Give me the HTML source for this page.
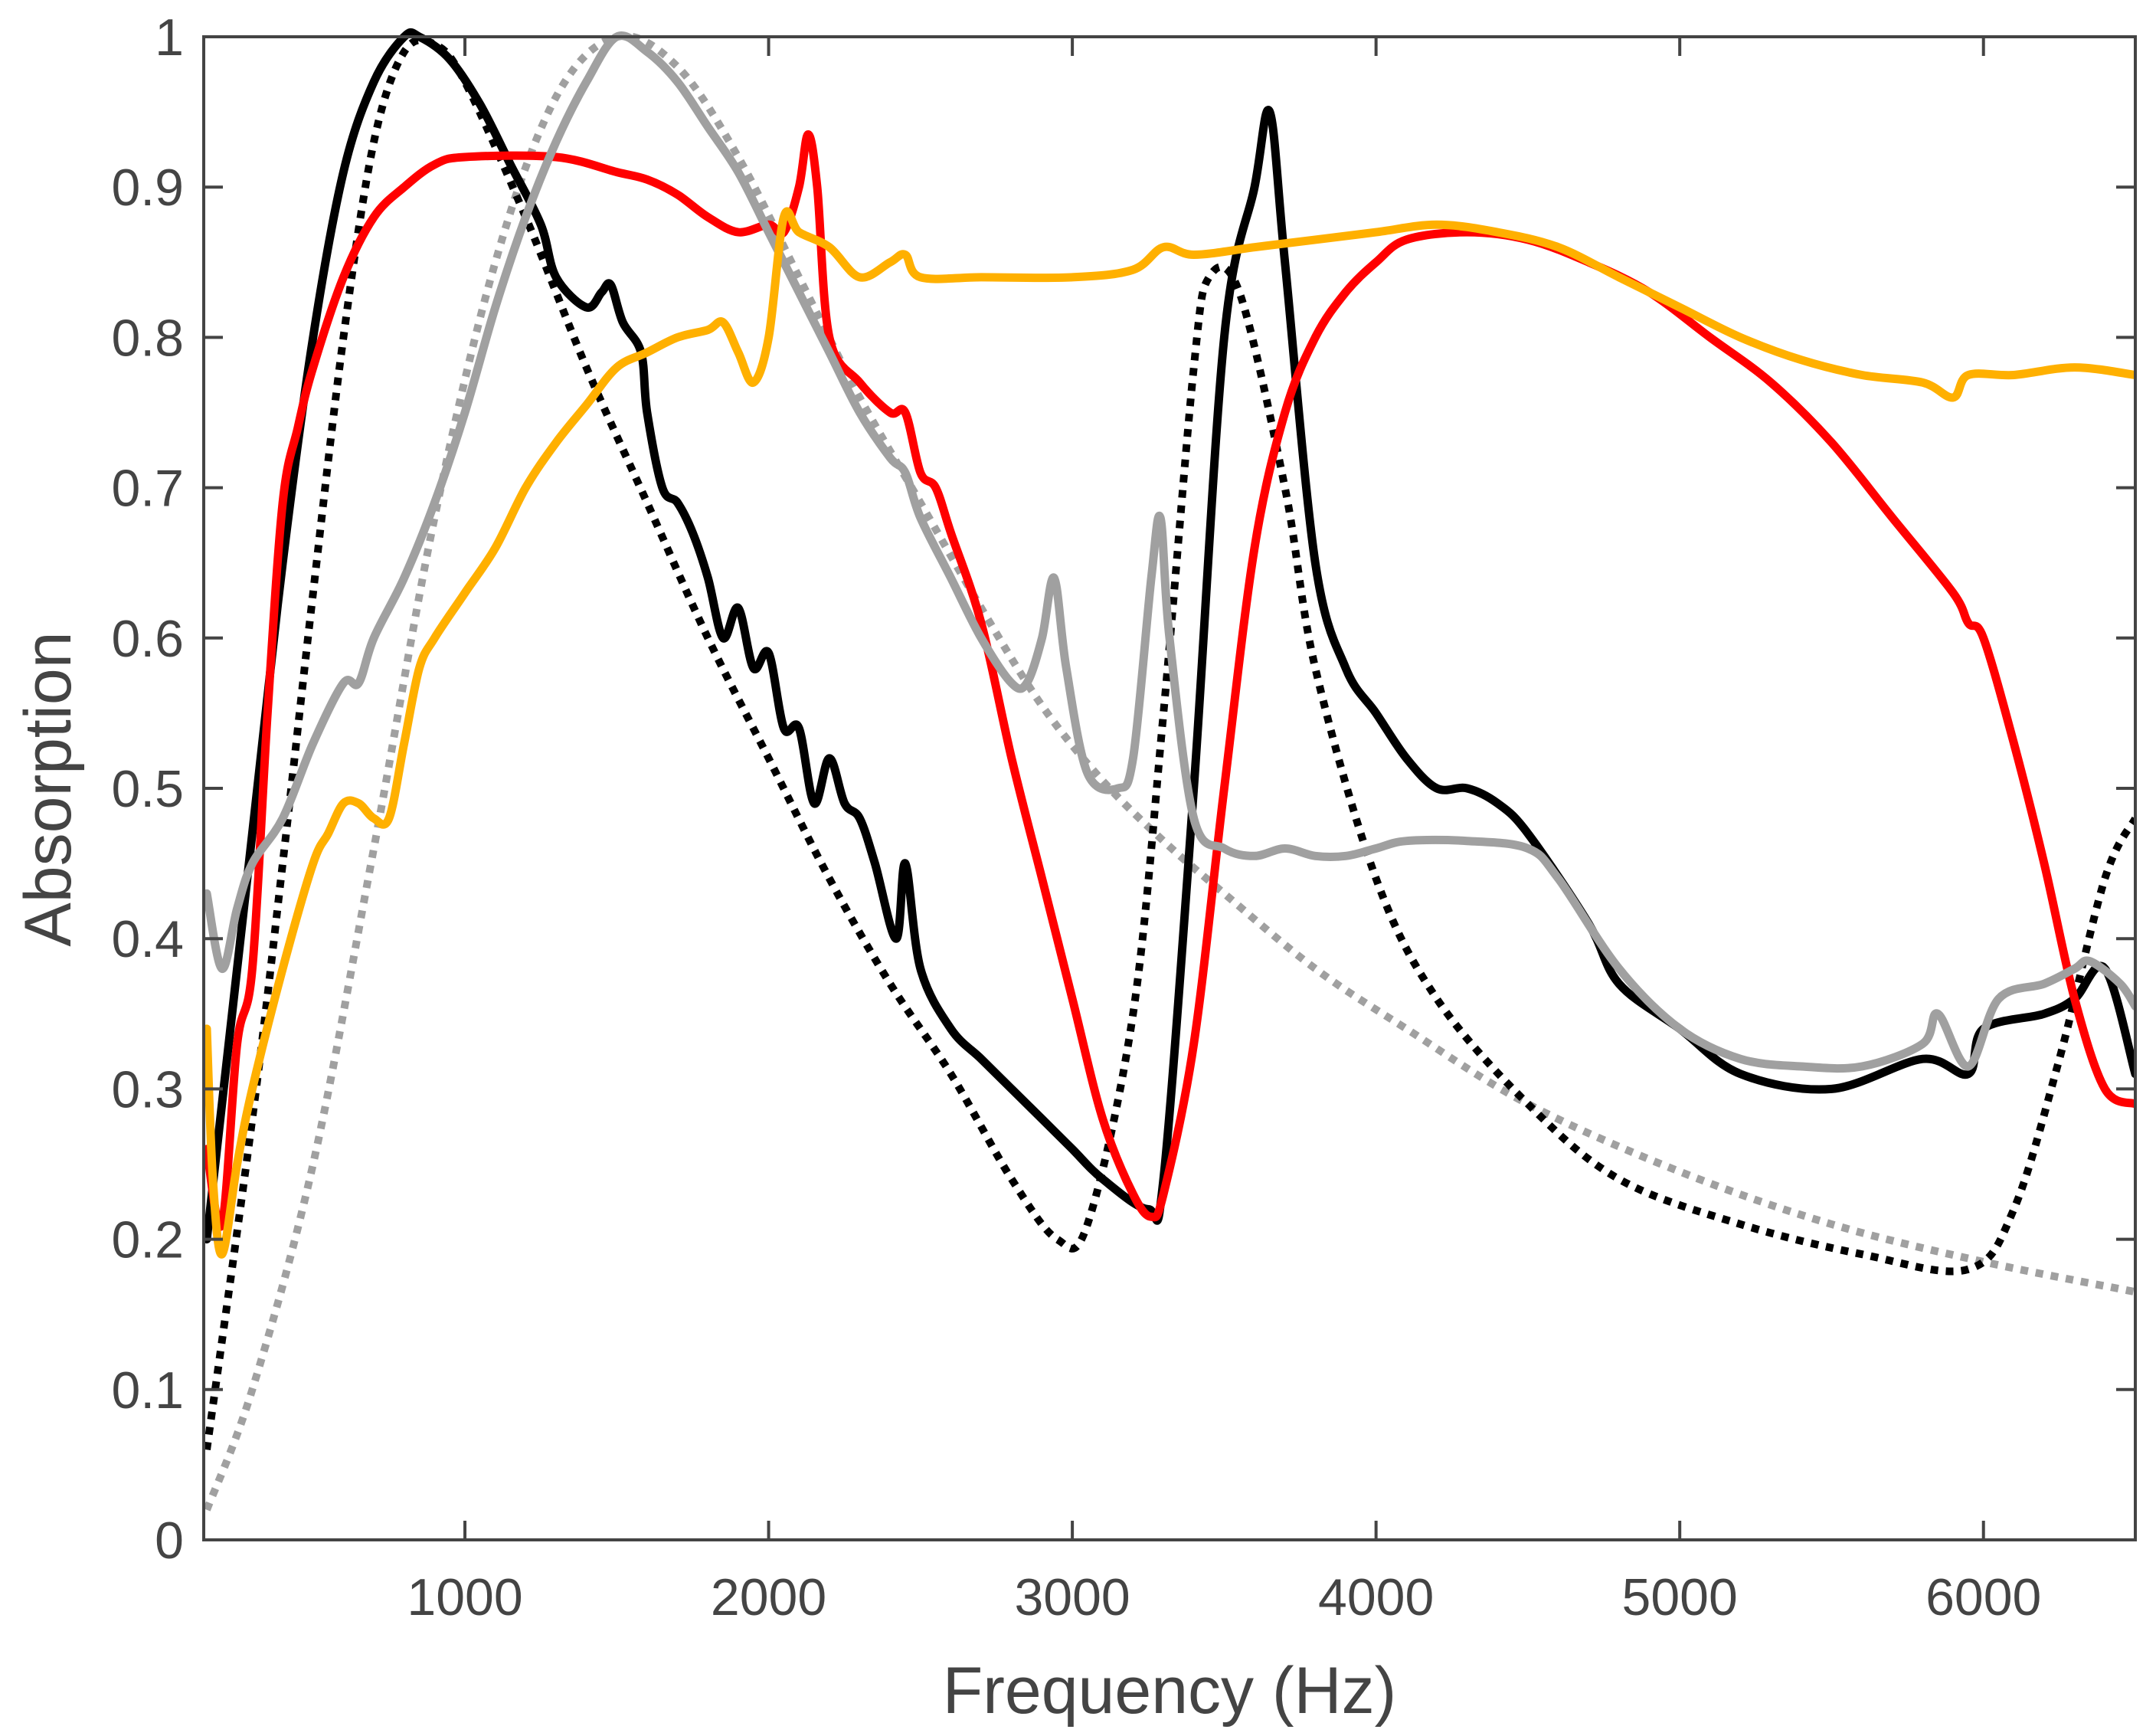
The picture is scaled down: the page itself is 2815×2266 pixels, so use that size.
<!DOCTYPE html>
<html><head><meta charset="utf-8"><style>
html,body{margin:0;padding:0;background:#fff;}
svg{display:block;}
text{font-family:"Liberation Sans",Arial,sans-serif;fill:#444;}
</style></head><body>
<svg id="chart" width="2815" height="2266" viewBox="0 0 2815 2266" xmlns="http://www.w3.org/2000/svg">
<g id="series"></g>
<g id="axes"></g>
</svg>
<script>
const xTicks=[1000,2000,3000,4000,5000,6000];
const yTicks=[0,0.1,0.2,0.3,0.4,0.5,0.6,0.7,0.8,0.9,1];
const yTickLabels=["0","0.1","0.2","0.3","0.4","0.5","0.6","0.7","0.8","0.9","1"];
const blackSolidF=[150,300,400,500,600,700,800,850,950,1050,1150,1250,1300,1400,1450,1480,1520,1580,1600,1650,1700,1750,1800,1850,1900,1950,2000,2050,2100,2150,2200,2250,2300,2350,2420,2450,2500,2600,2700,2800,2900,3000,3100,3250,3300,3400,3500,3600,3650,3700,3800,3900,4000,4100,4200,4300,4400,4500,4700,4800,5000,5200,5500,5800,5950,6000,6200,6300,6400,6500];
const blackSolidA=[0.2,0.47,0.65,0.80,0.91,0.97,1.0,1.0,0.985,0.955,0.915,0.875,0.84,0.82,0.83,0.835,0.81,0.79,0.75,0.70,0.69,0.67,0.64,0.60,0.62,0.58,0.59,0.54,0.54,0.49,0.52,0.49,0.48,0.45,0.40,0.45,0.38,0.34,0.32,0.30,0.28,0.26,0.24,0.22,0.24,0.50,0.80,0.90,0.95,0.85,0.65,0.58,0.55,0.52,0.50,0.50,0.49,0.47,0.41,0.37,0.34,0.31,0.30,0.32,0.31,0.34,0.35,0.36,0.38,0.31];
const blackDotF=[150,300,400,500,600,700,800,900,1000,1200,1400,1600,1800,2000,2200,2400,2600,2800,2950,3050,3200,3300,3400,3450,3550,3700,3800,4000,4200,4500,4800,5200,5600,5950,6100,6250,6400,6500];
const blackDotA=[0.06,0.28,0.45,0.63,0.80,0.93,0.99,0.995,0.97,0.88,0.78,0.69,0.60,0.52,0.44,0.37,0.31,0.24,0.20,0.21,0.35,0.55,0.78,0.84,0.83,0.70,0.58,0.44,0.36,0.29,0.24,0.21,0.19,0.18,0.22,0.32,0.44,0.48];
const redF=[150,200,250,300,350,400,450,500,600,700,800,900,1000,1300,1500,1600,1700,1800,1900,2000,2050,2100,2130,2160,2200,2300,2400,2450,2500,2550,2600,2700,2800,2900,3000,3100,3200,3260,3300,3400,3500,3600,3700,3800,3900,4000,4100,4300,4500,4700,4900,5100,5300,5500,5700,5900,5950,6000,6100,6200,6300,6400,6500];
const redA=[0.26,0.21,0.33,0.38,0.55,0.69,0.74,0.78,0.84,0.88,0.90,0.915,0.92,0.92,0.91,0.905,0.895,0.88,0.87,0.875,0.87,0.90,0.935,0.90,0.80,0.77,0.75,0.75,0.71,0.70,0.67,0.61,0.52,0.44,0.36,0.28,0.23,0.215,0.23,0.33,0.50,0.66,0.75,0.80,0.83,0.85,0.865,0.87,0.865,0.85,0.83,0.80,0.77,0.73,0.68,0.63,0.61,0.60,0.53,0.45,0.36,0.30,0.29];
const orangeF=[150,170,200,250,300,400,500,550,600,650,700,750,800,850,900,1000,1100,1200,1300,1400,1500,1600,1700,1800,1850,1900,1950,2000,2050,2100,2200,2300,2400,2450,2500,2700,3000,3200,3300,3400,3600,3800,4000,4200,4400,4600,4800,5000,5200,5400,5600,5800,5900,5950,6100,6300,6500];
const orangeA=[0.34,0.24,0.19,0.25,0.30,0.38,0.45,0.47,0.49,0.49,0.48,0.48,0.53,0.58,0.60,0.63,0.66,0.70,0.73,0.755,0.78,0.79,0.80,0.805,0.81,0.79,0.77,0.80,0.88,0.87,0.86,0.84,0.85,0.855,0.84,0.84,0.84,0.845,0.86,0.855,0.86,0.865,0.87,0.875,0.87,0.86,0.84,0.82,0.80,0.785,0.775,0.77,0.76,0.775,0.775,0.78,0.775];
const graySolidF=[150,200,250,300,400,500,600,650,700,800,900,1000,1100,1200,1300,1400,1500,1600,1700,1800,1900,2000,2100,2200,2300,2400,2450,2500,2600,2700,2800,2850,2900,2940,2980,3050,3150,3200,3260,3290,3320,3400,3500,3600,3700,3800,3900,4000,4100,4300,4500,4600,4800,5000,5200,5400,5600,5800,5850,5950,6050,6200,6300,6350,6450,6500];
const graySolidA=[0.43,0.38,0.42,0.45,0.48,0.53,0.57,0.57,0.60,0.64,0.69,0.75,0.82,0.88,0.93,0.97,1.0,0.99,0.97,0.94,0.91,0.87,0.83,0.79,0.75,0.72,0.71,0.68,0.64,0.60,0.57,0.57,0.60,0.64,0.58,0.51,0.50,0.52,0.64,0.68,0.60,0.48,0.46,0.455,0.46,0.455,0.455,0.46,0.465,0.465,0.46,0.44,0.38,0.34,0.32,0.315,0.315,0.33,0.35,0.315,0.36,0.37,0.38,0.385,0.37,0.355];
const grayDotF=[150,300,500,700,900,1100,1300,1500,1700,1900,2100,2300,2500,2700,2900,3100,3300,3500,3800,4100,4500,5000,5500,6000,6500];
const grayDotA=[0.02,0.10,0.25,0.46,0.68,0.85,0.96,1.0,0.98,0.92,0.84,0.76,0.69,0.62,0.555,0.505,0.465,0.43,0.38,0.34,0.29,0.245,0.21,0.185,0.165];

const L=266,R=2788,T=48,B=2010,XMIN=140,XMAX=6500;
function sx(v){return L+(v-XMIN)/(XMAX-XMIN)*(R-L);}
function sy(v){return B-v*(B-T);}
const NS="http://www.w3.org/2000/svg";
function mk(tag,attrs,parent){const e=document.createElementNS(NS,tag);for(const k in attrs)e.setAttribute(k,attrs[k]);parent.appendChild(e);return e;}
function pathD(fs,as){
  const p=fs.map((f,i)=>[sx(f),sy(as[i])]);
  let d="M"+p[0][0].toFixed(1)+","+p[0][1].toFixed(1);
  for(let i=0;i<p.length-1;i++){
    const p0=p[i-1]||p[i],p1=p[i],p2=p[i+1],p3=p[i+2]||p2;
    const c1x=p1[0]+(p2[0]-p0[0])/6,c1y=p1[1]+(p2[1]-p0[1])/6;
    const c2x=p2[0]-(p3[0]-p1[0])/6,c2y=p2[1]-(p3[1]-p1[1])/6;
    d+=" C"+c1x.toFixed(1)+","+c1y.toFixed(1)+" "+c2x.toFixed(1)+","+c2y.toFixed(1)+" "+p2[0].toFixed(1)+","+p2[1].toFixed(1);
  }
  return d;
}
const sg=document.getElementById("series");
const clip=mk("clipPath",{id:"pc"},sg);
mk("rect",{x:L,y:T-12,width:R-L,height:B-T+12},clip);
const g=mk("g",{"clip-path":"url(#pc)"},sg);
function line(fs,as,color,dash,name){
  const e=mk("path",{d:pathD(fs,as),fill:"none",stroke:color,"stroke-width":11,"stroke-linejoin":"round"},g);
  if(dash){e.setAttribute("stroke-dasharray","10 10");e.setAttribute("stroke-width","10");}else{e.setAttribute("stroke-linecap","round");}
  
  
}
line(grayDotF,grayDotA,"#a0a0a0",true,"gray-dotted-series");
line(blackDotF,blackDotA,"#000",true,"black-dotted-series");
line(blackSolidF,blackSolidA,"#000",false,"black-solid-series");
line(redF,redA,"#ff0000",false,"red-series");
line(graySolidF,graySolidA,"#a0a0a0",false,"gray-solid-series");
line(orangeF,orangeA,"#ffb000",false,"orange-series");

const ax=document.getElementById("axes");
const frame=mk("rect",{x:L,y:T,width:R-L,height:B-T,fill:"none",stroke:"#444","stroke-width":4},ax);


xTicks.forEach(v=>{
  const x=sx(v);
  mk("line",{x1:x,y1:B,x2:x,y2:B-25,stroke:"#444","stroke-width":4},ax);
  mk("line",{x1:x,y1:T,x2:x,y2:T+25,stroke:"#444","stroke-width":4},ax);
  const t=mk("text",{x:x,y:B+98,"font-size":68,"text-anchor":"middle"},ax);
  t.textContent=v;
  
  
});
yTicks.forEach((v,i)=>{
  const y=sy(v);
  mk("line",{x1:L,y1:y,x2:L+25,y2:y,stroke:"#444","stroke-width":4},ax);
  mk("line",{x1:R,y1:y,x2:R-25,y2:y,stroke:"#444","stroke-width":4},ax);
  const t=mk("text",{x:L-26,y:y+24,"font-size":68,"text-anchor":"end"},ax);
  t.textContent=yTickLabels[i];
  
  
});
const xt=mk("text",{x:(L+R)/2,y:2236,"font-size":86,"text-anchor":"middle"},ax);
xt.textContent="Frequency (Hz)";


const yt=mk("text",{x:0,y:0,"font-size":86,"text-anchor":"middle",transform:"translate(92,1030) rotate(-90)"},ax);
yt.textContent="Absorption";


</script>
</body></html>
